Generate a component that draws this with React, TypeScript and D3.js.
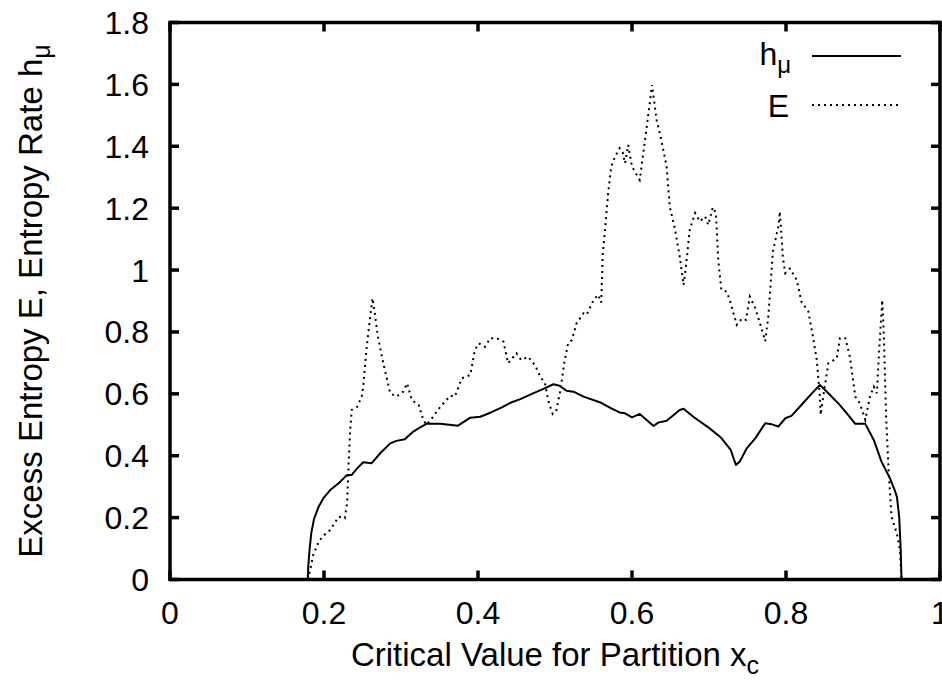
import React from "react";
import * as d3 from "d3";

const xTicks = [0, 0.2, 0.4, 0.6, 0.8, 1];
const yTicks = [0, 0.2, 0.4, 0.6, 0.8, 1, 1.2, 1.4, 1.6, 1.8];

const hmuPoints: [number, number][] = [
  [0.179, 0], [0.1795, 0.04], [0.181, 0.09], [0.1835, 0.15], [0.187, 0.195], [0.193, 0.235], [0.199, 0.262],
  [0.208, 0.289], [0.219, 0.311], [0.230, 0.338], [0.236, 0.338], [0.243, 0.359], [0.251, 0.379],
  [0.262, 0.376], [0.273, 0.408], [0.286, 0.440], [0.294, 0.448], [0.305, 0.453], [0.316, 0.478],
  [0.325, 0.492], [0.333, 0.503], [0.351, 0.503], [0.374, 0.497], [0.390, 0.523], [0.403, 0.526],
  [0.416, 0.539], [0.431, 0.556], [0.442, 0.571], [0.455, 0.583], [0.470, 0.600], [0.485, 0.616],
  [0.498, 0.631], [0.506, 0.626], [0.515, 0.610], [0.524, 0.607], [0.537, 0.591], [0.560, 0.571],
  [0.573, 0.553], [0.584, 0.540], [0.591, 0.537], [0.600, 0.524], [0.610, 0.535], [0.628, 0.496],
  [0.634, 0.507], [0.645, 0.513], [0.662, 0.548], [0.667, 0.552], [0.680, 0.525], [0.700, 0.49],
  [0.715, 0.46], [0.728, 0.42], [0.735, 0.37], [0.740, 0.381], [0.749, 0.424], [0.760, 0.456],
  [0.773, 0.505], [0.781, 0.502], [0.790, 0.494], [0.799, 0.521], [0.807, 0.529], [0.820, 0.564],
  [0.833, 0.600], [0.844, 0.629], [0.855, 0.602], [0.868, 0.569], [0.879, 0.537], [0.890, 0.503],
  [0.903, 0.503], [0.914, 0.451], [0.924, 0.381], [0.935, 0.327], [0.941, 0.29], [0.944, 0.268],
  [0.947, 0.203], [0.949, 0.095], [0.950, 0],
];

const excessPoints: [number, number][] = [
  [0.179, 0], [0.182, 0.03], [0.186, 0.079], [0.193, 0.122], [0.199, 0.141], [0.208, 0.160],
  [0.219, 0.203], [0.227, 0.198], [0.230, 0.247], [0.232, 0.376], [0.234, 0.483], [0.236, 0.548],
  [0.243, 0.558], [0.249, 0.591], [0.251, 0.623], [0.255, 0.742], [0.260, 0.849], [0.263, 0.909],
  [0.266, 0.860], [0.270, 0.785], [0.277, 0.699], [0.286, 0.602], [0.294, 0.591], [0.303, 0.607],
  [0.308, 0.634], [0.314, 0.580], [0.323, 0.564], [0.329, 0.516], [0.333, 0.500], [0.340, 0.521],
  [0.351, 0.558], [0.364, 0.594], [0.370, 0.591], [0.379, 0.650], [0.390, 0.661], [0.396, 0.742],
  [0.401, 0.763], [0.409, 0.752], [0.416, 0.780], [0.424, 0.780], [0.433, 0.769], [0.439, 0.699],
  [0.450, 0.731], [0.456, 0.709], [0.465, 0.720], [0.474, 0.693], [0.481, 0.655], [0.487, 0.634],
  [0.491, 0.580], [0.497, 0.535], [0.502, 0.548], [0.507, 0.612], [0.512, 0.699], [0.517, 0.763],
  [0.522, 0.774], [0.528, 0.828], [0.537, 0.860], [0.541, 0.855], [0.550, 0.903], [0.556, 0.920],
  [0.560, 0.895], [0.562, 1.05], [0.565, 1.13], [0.569, 1.248], [0.573, 1.334], [0.578, 1.367],
  [0.584, 1.394], [0.588, 1.38], [0.591, 1.345], [0.595, 1.404], [0.600, 1.334], [0.610, 1.291],
  [0.617, 1.421], [0.623, 1.539], [0.626, 1.598], [0.632, 1.485], [0.638, 1.421], [0.645, 1.334],
  [0.649, 1.205], [0.656, 1.130], [0.662, 1.043], [0.667, 0.952], [0.670, 1.011], [0.675, 1.130],
  [0.682, 1.184], [0.688, 1.157], [0.695, 1.173], [0.699, 1.146], [0.705, 1.203], [0.709, 1.184],
  [0.712, 1.033], [0.716, 0.936], [0.723, 0.930], [0.727, 0.903], [0.736, 0.823], [0.743, 0.844],
  [0.748, 0.839], [0.753, 0.914], [0.760, 0.877], [0.766, 0.830], [0.773, 0.770], [0.777, 0.849],
  [0.783, 1.06], [0.790, 1.14], [0.792, 1.189], [0.796, 1.04], [0.799, 0.99], [0.805, 1.005],
  [0.814, 0.968], [0.820, 0.898], [0.829, 0.866], [0.835, 0.785], [0.840, 0.709], [0.844, 0.591],
  [0.845, 0.532], [0.849, 0.602], [0.855, 0.699], [0.866, 0.715], [0.870, 0.780], [0.877, 0.780],
  [0.883, 0.720], [0.890, 0.591], [0.896, 0.569], [0.903, 0.516], [0.909, 0.591], [0.914, 0.623],
  [0.918, 0.602], [0.921, 0.742], [0.925, 0.903], [0.927, 0.796], [0.930, 0.526], [0.933, 0.365],
  [0.937, 0.203], [0.944, 0.149], [0.948, 0.095], [0.950, 0],
];

const W = 942;
const H = 680;
const left = 170;
const right = 940;
const top = 22.5;
const bottom = 579.5;
const FONT = "'Liberation Sans', Arial, Helvetica, sans-serif";
const FS = 32;
const LFS = 33;
const TICK = 9;

export default function App() {
  const x = d3.scaleLinear().domain([0, 1]).range([left, right]);
  const y = d3.scaleLinear().domain([0, 1.8]).range([bottom, top]);
  const line = d3
    .line<[number, number]>()
    .x((d) => x(d[0]))
    .y((d) => y(d[1]));

  const midY = (top + bottom) / 2;
  const midX = (left + right) / 2;

  return (
    <svg
      width={W}
      height={H}
      style={{ position: "absolute", left: 0, top: 0, display: "block", background: "#fff" }}
      fontFamily={FONT}
    >
      <rect x={0} y={0} width={W} height={H} fill="#fff" />
      <path d={line(excessPoints) || ""} fill="none" stroke="#000" strokeWidth={2} strokeDasharray="2,4" />
      <path d={line(hmuPoints) || ""} fill="none" stroke="#000" strokeWidth={2} strokeLinejoin="round" />

      {yTicks.map((t) => (
        <g key={"y" + t}>
          <line x1={left} x2={left + TICK} y1={y(t)} y2={y(t)} stroke="#000" strokeWidth={3.5} />
          <line x1={right} x2={right - TICK} y1={y(t)} y2={y(t)} stroke="#000" strokeWidth={3.5} />
          <text x={149} y={y(t)} dy="0.36em" textAnchor="end" fontSize={FS}>
            {String(t)}
          </text>
        </g>
      ))}
      {xTicks.map((t) => (
        <g key={"x" + t}>
          <line x1={x(t)} x2={x(t)} y1={bottom} y2={bottom - TICK} stroke="#000" strokeWidth={3.5} />
          <line x1={x(t)} x2={x(t)} y1={top} y2={top + TICK} stroke="#000" strokeWidth={3.5} />
          <text x={x(t)} y={624} textAnchor="middle" fontSize={FS}>
            {String(t)}
          </text>
        </g>
      ))}

      <rect x={left} y={top} width={right - left} height={bottom - top} fill="none" stroke="#000" strokeWidth={3.5} />

      <text x={791} y={65} textAnchor="end" fontSize={FS}>
        h<tspan fontSize={24} dy={8}>μ</tspan>
      </text>
      <line x1={812} x2={901} y1={56} y2={56} stroke="#000" strokeWidth={2} />
      <text x={789} y={117} textAnchor="end" fontSize={FS}>
        E
      </text>
      <line x1={812} x2={901} y1={105} y2={105} stroke="#000" strokeWidth={2} strokeDasharray="2,4" />

      <text x={midX} y={666} textAnchor="middle" fontSize={LFS}>
        Critical Value for Partition x<tspan fontSize={25} dy={8}>c</tspan>
      </text>
      <text transform={`translate(42,${midY}) rotate(-90)`} textAnchor="middle" fontSize={LFS}>
        Excess Entropy E, Entropy Rate h<tspan fontSize={25} dy={8}>μ</tspan>
      </text>
    </svg>
  );
}
